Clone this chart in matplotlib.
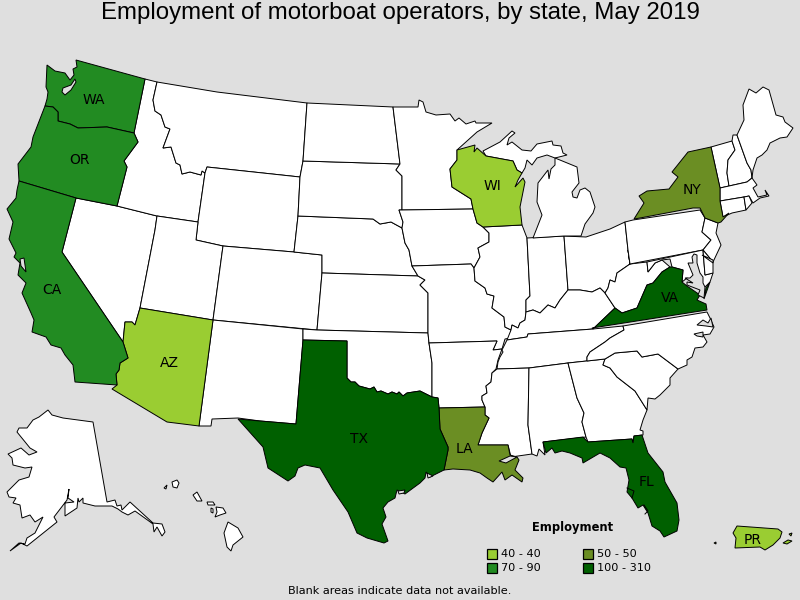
import matplotlib
matplotlib.use("Agg")
import matplotlib.pyplot as plt

# State outlines (x, y in the 800x600 map frame)
WA = [(47,65),(55,71),(65,73),(70,80),(74,75),(73,69),(77,67),(76,60),(145,79),(134,133),(107,127),(78,128),(70,124),(58,121),(58,112),(53,107),(45,106),(47,99),(48,92),(46,87)]
OR = [(45,106),(53,107),(58,112),(58,121),(70,124),(78,128),(107,127),(134,133),(138,142),(124,161),(127,167),(117,206),(76,198),(19,181),(18,164),(31,147),(33,137)]
CA = [(19,181),(76,198),(62,252),(123,342),(128,358),(120,363),(119,370),(116,374),(117,385),(75,382),(73,365),(65,355),(61,348),(51,345),(46,337),(32,332),(34,320),(31,313),(22,293),(26,283),(18,275),(20,263),(14,257),(16,253),(9,239),(13,222),(7,209),(16,198),(17,190)]
AZ = [(140,308),(213,320),(199,426),(167,422),(112,389),(117,385),(116,374),(119,370),(120,363),(128,358),(123,342),(125,322),(132,322),(135,325)]
NV = [(76,198),(117,206),(157,216),(155,230),(140,308),(135,325),(132,322),(125,322),(123,342),(62,252)]
ID = [(145,79),(157,82),(153,100),(155,111),(161,115),(165,127),(170,129),(163,148),(171,147),(176,163),(180,165),(182,174),(190,172),(201,175),(202,171),(205,173),(198,222),(157,216),(117,206),(127,167),(124,161),(138,142),(134,133)]
MT = [(157,82),(217,92),(307,103),(303,161),(300,177),(207,167),(205,173),(202,171),(201,175),(190,172),(182,174),(180,165),(176,163),(171,147),(163,148),(170,129),(165,127),(161,115),(155,111),(153,100)]
WY = [(207,167),(300,177),(298,216),(294,252),(223,246),(196,240),(198,222),(205,173)]
UT = [(157,216),(198,222),(196,240),(223,246),(213,320),(140,308),(155,230)]
CO = [(223,246),(294,252),(322,255),(322,273),(317,330),(213,320)]
NM = [(213,320),(303,329),(303,340),(296,424),(260,421),(238,418),(212,419),(211,426),(199,426)]
TX = [(303,340),(347,341),(347,378),(351,382),(355,382),(359,386),(370,389),(374,387),(377,392),(381,391),(388,394),(392,392),(397,394),(399,392),(403,396),(407,393),(420,391),(432,397),(438,398),(439,408),(440,429),(448,447),(448,450),(444,470),(430,477),(426,472),(425,478),(420,483),(405,494),(397,490),(395,498),(388,502),(383,508),(386,517),(382,524),(388,541),(384,543),(367,538),(357,533),(348,512),(333,490),(320,468),(305,465),(298,468),(295,476),(288,481),(268,468),(263,447),(238,419),(260,421),(296,424)]
LA = [(439,408),(485,407),(485,415),(489,418),(482,433),(478,445),(508,445),(510,455),(517,457),(519,460),(515,470),(523,478),(522,482),(512,475),(505,480),(502,472),(493,482),(487,478),(480,473),(470,470),(453,469),(444,470),(448,450),(448,447),(440,429)]
AR = [(429,343),(497,341),(493,350),(502,349),(498,360),(496,369),(492,373),(491,382),(486,386),(487,393),(482,396),(482,400),(485,407),(439,408),(438,398),(432,397),(432,363)]
MO = [(412,266),(471,264),(474,268),(475,281),(485,288),(487,294),(494,296),(492,308),(504,317),(505,327),(511,330),(510,338),(505,339),(502,349),(493,350),(497,341),(429,343),(428,333),(428,293),(420,285),(425,280),(418,276)]
IA = [(399,210),(402,210),(473,209),(477,223),(483,227),(489,233),(489,242),(478,248),(480,257),(474,268),(471,264),(412,266),(409,250),(405,243),(402,228),(403,222)]
NE = [(298,216),(373,219),(380,224),(391,222),(402,228),(405,243),(409,250),(412,266),(418,276),(322,273),(322,255),(294,252)]
KS = [(322,273),(418,276),(425,280),(420,285),(428,293),(428,333),(317,330)]
OK = [(303,329),(317,330),(428,333),(429,343),(432,363),(432,397),(420,391),(407,393),(403,396),(399,392),(397,394),(392,392),(388,394),(381,391),(377,392),(374,387),(370,389),(359,386),(355,382),(351,382),(347,378),(347,341),(303,340)]
SD = [(303,161),(400,164),(396,170),(402,176),(402,210),(399,210),(403,222),(402,228),(391,222),(380,224),(373,219),(298,216),(300,177)]
ND = [(307,103),(393,107),(400,164),(303,161)]
MN = [(393,107),(418,107),(419,100),(423,102),(426,112),(436,115),(450,114),(455,121),(459,118),(466,124),(475,121),(476,123),(492,123),(477,132),(457,150),(457,160),(450,169),(452,187),(471,199),(473,209),(402,210),(402,176),(396,170),(400,164)]
WI = [(457,150),(475,145),(474,152),(477,148),(486,156),(513,161),(517,170),(522,173),(518,180),(515,187),(523,178),(525,182),(520,207),(522,225),(483,227),(477,223),(473,209),(471,199),(452,187),(450,169),(457,160)]
IL = [(483,227),(522,225),(527,238),(530,296),(526,300),(526,312),(525,320),(520,323),(518,328),(512,325),(511,330),(505,327),(504,317),(492,308),(494,296),(487,294),(485,288),(475,281),(474,268),(480,257),(478,248),(489,242),(489,233)]
IN = [(527,238),(564,236),(568,290),(560,300),(555,308),(548,305),(540,313),(533,310),(526,312),(526,300),(530,296)]
OH = [(564,236),(586,237),(610,229),(625,222),(628,250),(630,264),(617,273),(615,282),(610,280),(608,288),(605,293),(600,288),(592,292),(580,290),(568,290)]
KY = [(507,340),(511,330),(512,325),(518,328),(520,323),(525,320),(526,312),(533,310),(540,313),(548,305),(555,308),(560,300),(568,290),(580,290),(592,292),(600,288),(605,293),(615,308),(593,329),(528,334),(527,337)]
PA = [(625,222),(633,220),(700,210),(705,218),(702,232),(711,240),(703,250),(630,264),(628,250)]
WV = [(628,250),(630,264),(647,262),(648,272),(655,263),(662,260),(670,267),(662,272),(653,283),(647,285),(637,308),(622,313),(615,308),(605,293),(608,288),(610,280),(615,282),(617,273),(630,264)]
MD = [(647,262),(703,250),(705,275),(713,273),(710,282),(705,287),(690,280),(687,278),(682,282),(683,270),(672,267),(670,259),(662,260),(655,263),(648,272)]
DE = [(703,250),(713,262),(713,273),(705,275)]
VA = [(592,328),(707,310),(706,304),(697,300),(700,295),(687,286),(682,282),(683,270),(672,267),(670,267),(662,272),(653,283),(647,285),(637,308),(622,313),(615,308),(593,329)]
VA_SHORE = [(710,282),(704,299),(706,288)]
NJ = [(705,218),(718,223),(716,233),(721,245),(713,262),(703,250),(711,240),(702,232)]
NY = [(634,219),(644,203),(639,196),(647,191),(669,189),(678,177),(672,172),(688,152),(711,147),(720,188),(720,201),(723,217),(729,213),(721,222),(718,223),(705,218),(700,208),(693,208),(640,218)]
VT = [(711,147),(732,141),(735,150),(728,160),(727,173),(729,186),(720,188)]
NH = [(732,141),(733,135),(737,135),(747,163),(751,170),(752,178),(747,182),(729,186),(727,173),(728,160),(735,150)]
ME = [(737,135),(744,120),(743,105),(749,89),(756,93),(763,87),(769,90),(776,115),(783,117),(785,122),(793,128),(787,137),(780,138),(770,143),(767,150),(762,155),(757,158),(753,170),(752,178),(751,170),(747,163)]
MA = [(720,188),(729,186),(747,182),(752,178),(757,185),(753,188),(758,197),(767,195),(765,190),(769,196),(760,198),(753,203),(749,196),(744,197),(720,201)]
CT = [(720,201),(744,197),(746,210),(732,213),(723,217)]
RI = [(744,197),(749,196),(752,203),(746,210)]
MI_UP = [(483,151),(500,142),(512,131),(515,133),(509,138),(507,145),(512,142),(522,150),(531,151),(537,144),(552,141),(553,145),(561,146),(563,153),(567,155),(555,158),(547,155),(537,158),(532,165),(527,160),(525,168),(522,173),(517,170),(513,161),(486,156)]
MI_LP = [(555,158),(577,167),(579,183),(572,192),(573,197),(577,198),(580,190),(585,188),(590,192),(595,207),(593,213),(585,224),(581,236),(564,236),(533,238),(542,215),(537,202),(538,183),(548,170),(549,179),(551,169),(555,165)]
TN = [(507,340),(527,337),(528,334),(593,329),(623,326),(624,330),(610,338),(605,342),(590,352),(587,357),(587,361),(568,363),(529,368),(497,369),(498,362),(500,357),(503,352),(502,350)]
MS = [(529,368),(497,369),(492,373),(491,382),(486,386),(487,393),(482,396),(482,400),(485,407),(485,415),(489,418),(482,433),(478,445),(508,445),(511,457),(532,454),(528,425)]
AL = [(529,368),(568,363),(577,398),(584,413),(582,422),(586,437),(543,442),(545,455),(539,449),(537,456),(532,454),(528,425)]
GA = [(568,363),(605,359),(603,365),(610,368),(617,377),(635,391),(647,410),(643,420),(640,430),(643,431),(643,435),(634,436),(633,443),(632,439),(588,442),(586,437),(582,422),(584,413),(577,398)]
SC = [(605,359),(615,353),(637,351),(642,357),(658,354),(678,369),(670,378),(670,385),(660,395),(655,399),(648,398),(647,410),(635,391),(617,377),(610,368),(603,365)]
NC = [(623,326),(707,312),(710,318),(714,327),(710,334),(703,335),(707,342),(703,347),(695,348),(692,357),(687,360),(687,365),(678,369),(658,354),(642,357),(637,351),(615,353),(605,359),(587,361),(587,357),(590,352),(605,342),(610,338),(624,330)]
FL = [(543,442),(583,437),(588,442),(632,439),(633,443),(634,436),(642,435),(648,453),(663,472),(665,482),(677,503),(679,520),(677,531),(664,537),(660,531),(652,526),(648,513),(643,505),(638,508),(632,498),(627,492),(629,480),(626,468),(620,467),(610,458),(600,453),(583,463),(582,458),(570,453),(562,451),(555,453),(552,448),(546,453)]
PR = [(737,526),(778,529),(782,532),(780,538),(773,545),(765,550),(760,547),(735,548),(736,538),(733,533)]
PR_VIEQUES = [(783,543),(788,540),(792,541),(787,544)]
PR_CULEBRA = [(789,534),(792,533),(791,536)]
PR_MONA = [(714,543),(716,542),(716,544)]
AK = [(48,410),(52,415),(63,418),(93,422),(107,502),(115,500),(117,506),(121,505),(122,510),(130,502),(153,523),(162,524),(165,532),(162,536),(157,527),(154,532),(153,524),(135,511),(128,515),(122,512),(118,509),(112,506),(95,506),(83,503),(83,498),(79,502),(78,498),(77,508),(65,516),(65,503),(74,502),(68,498),(69,489),(67,500),(54,517),(57,522),(37,538),(27,546),(21,543),(10,551),(19,543),(25,544),(27,538),(35,533),(43,517),(35,522),(30,515),(22,518),(20,505),(13,503),(16,498),(9,497),(7,492),(19,480),(29,477),(32,467),(25,468),(13,465),(12,458),(8,454),(21,448),(29,455),(37,452),(30,448),(17,432),(19,428),(27,428),(33,420),(39,417)]
HI_BIG = [(228,522),(238,528),(243,537),(233,545),(231,551),(227,547),(224,533)]
HI_MAUI = [(216,507),(223,508),(226,513),(220,515),(215,517),(217,512)]
HI_LANAI = [(211,508),(213,509),(213,513),(211,512)]
HI_MOLOKAI = [(207,502),(213,502),(215,505),(208,505)]
HI_OAHU = [(193,495),(197,492),(202,501),(197,501)]
HI_KAUAI = [(172,482),(177,480),(179,483),(177,488),(173,487)]
HI_NIIHAU = [(164,488),(167,485),(166,489)]

# Water cut out of the states
PUGET = [(75,79),(71,85),(63,88),(62,92),(65,95),(71,90),(76,82)]
SF_BAY = [(20,259),(24,258),(26,272),(21,266)]
PONTCHARTRAIN = [(499,461),(510,456),(517,457),(506,463)]
CHESAPEAKE = [(694,254),(697,255),(697,263),(700,273),(703,277),(703,283),(705,287),(704,298),(702,297),(698,295),(700,290),(687,285),(687,282),(693,283),(685,278),(690,278),(693,275),(688,263),(693,263),(692,257)]
DELAWARE_BAY = [(702,255),(713,260),(713,263)]
ALBEMARLE = [(697,325),(703,320),(708,323),(711,318),(713,327),(706,326)]
PAMLICO = [(694,334),(703,332),(703,337),(697,336)]
GALVESTON = [(427,473),(433,476),(428,478)]
MATAGORDA = [(398,491),(405,490),(404,493),(399,494)]

# Tampa and Charlotte harbour, only an edge in the picture
TAMPA = [(627,488),(634,491),(632,498)]
CHARLOTTE = [(644,505),(648,511),(645,514)]

# Employment bins
blank_states = [AK, HI_BIG, HI_MAUI, HI_LANAI, HI_MOLOKAI, HI_OAHU, HI_KAUAI, HI_NIIHAU,
                NV, ID, MT, WY, UT, CO, NM, NE, KS, OK, SD, ND, MN, IA, MO, AR, IL, IN, OH, KY,
                TN, MS, AL, GA, SC, NC, WV, PA, NJ, MD, DE, VT, NH, ME, MA, CT, RI, MI_UP, MI_LP]
bin_40 = [AZ, WI, PR, PR_VIEQUES, PR_CULEBRA, PR_MONA]
bin_50 = [NY, LA]
bin_70 = [WA, OR, CA]
bin_100 = [TX, VA, VA_SHORE, FL]
water = [PUGET, SF_BAY, PONTCHARTRAIN, CHESAPEAKE, DELAWARE_BAY, ALBEMARLE, PAMLICO, GALVESTON, MATAGORDA]
inlets = [TAMPA, CHARLOTTE]

legend_labels = ["40 - 40", "50 - 50", "70 - 90", "100 - 310"]
bin_colors = ["#9acd32", "#6b8e23", "#228b22", "#006000"]

state_labels = ["WA", "OR", "CA", "AZ", "TX", "LA", "WI", "NY", "VA", "FL", "PR"]
label_x = [94, 79, 52, 169, 359, 464, 492, 692, 670, 646, 753]
label_y = [100, 160, 290, 363, 439, 449, 186, 190, 298, 482, 540]

bg = "#dfdfdf"
line_w = 0.7

fig = plt.figure(figsize=(8, 6), dpi=100, facecolor=bg)
ax = fig.add_axes([0, 0, 1, 1])
ax.set_xlim(0, 800)
ax.set_ylim(600, 0)
ax.axis("off")


def draw_shapes(shapes, color):
    for shape in shapes:
        xs = [p[0] for p in shape]
        ys = [p[1] for p in shape]
        ax.fill(xs, ys, facecolor=color, edgecolor="black", linewidth=line_w, joinstyle="miter")


draw_shapes(blank_states, "white")
draw_shapes(bin_40, bin_colors[0])
draw_shapes(bin_50, bin_colors[1])
draw_shapes(bin_70, bin_colors[2])
draw_shapes(bin_100, bin_colors[3])
draw_shapes(water, bg)

for shape in inlets:
    ax.plot([p[0] for p in shape], [p[1] for p in shape], color="black", linewidth=line_w)

for name, x, y in zip(state_labels, label_x, label_y):
    ax.text(x, y, name, ha="center", va="center", fontsize=10, color="black")

# Title and footnote
ax.text(400, 13, "Employment of motorboat operators, by state, May 2019",
        ha="center", va="center", fontsize=17.3, family="Liberation Sans")
ax.text(400, 591, "Blank areas indicate data not available.",
        ha="center", va="center", fontsize=8.15)

# Legend
ax.text(572.5, 528, "Employment", ha="center", va="center", fontsize=8.3, fontweight="bold")
swatch_x = [487, 583, 487, 583]
swatch_y = [549, 549, 563, 563]
for label, color, x, y in zip(legend_labels, bin_colors, swatch_x, swatch_y):
    ax.add_patch(plt.Rectangle((x, y), 10, 10, facecolor=color, edgecolor="black", linewidth=0.9))
    ax.text(x + 14, y + 5, label, ha="left", va="center", fontsize=8.1)

fig.savefig("out.png", dpi=100, facecolor=bg)
